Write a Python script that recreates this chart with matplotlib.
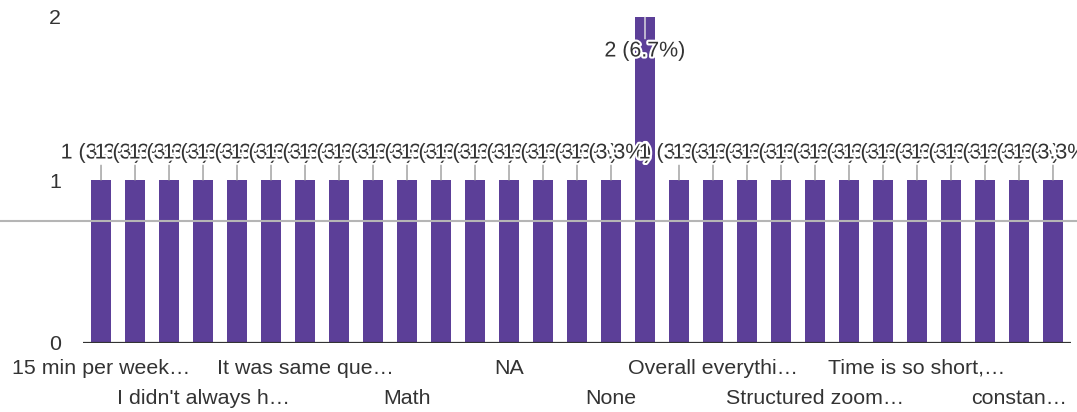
import matplotlib
matplotlib.use("Agg")
import matplotlib.pyplot as plt
import matplotlib.patheffects as pe
from matplotlib.lines import Line2D

plt.rcParams['font.family'] = ['Liberation Sans', 'DejaVu Sans']

# ---- data ----
categories = [
    "15 min per week…", "", "", "I didn't always h…", "", "",
    "It was same que…", "", "", "Math", "", "", "NA", "", "", "None",
    "", "", "Overall everythi…", "", "", "Structured zoom…", "", "",
    "Time is so short,…", "", "", "constan…", "",
]
counts = [1] * 16 + [2] + [1] * 12
total = 30
yticks = [0, 1, 2]

# ---- style ----
bar_color = "#5c3f98"
text_color = "#333333"
fs = 15.4

fig = plt.figure(figsize=(10.77, 4.12), dpi=100)
ax = fig.add_axes([83 / 1077, 1 - 343 / 412, (1071 - 83) / 1077, (343 - 17) / 412])

x = list(range(len(categories)))
ax.bar(x, counts, width=0.6, color=bar_color, zorder=2)
ax.set_xlim(-0.53, len(categories) - 1 + 0.53)
ax.set_ylim(0, 2)

for s in ax.spines.values():
    s.set_visible(False)
ax.axhline(0, color="#333333", lw=1.6, zorder=3)
ax.set_xticks([])
ax.set_yticks(yticks)
ax.set_yticklabels([str(v) for v in yticks], fontsize=fs, color=text_color)
ax.tick_params(axis="y", length=0, pad=16)

halo = [pe.withStroke(linewidth=3, foreground="white")]

# value annotations
for i, v in enumerate(counts):
    label = f"{v} ({v / total * 100:.1f}%)"
    if v >= max(counts):
        off = -34
        stem = "#e6e6e6"
    else:
        off = 27
        stem = "#9a9a9a"
    ax.annotate(label, xy=(i, v), xytext=(0, off), textcoords="offset pixels",
                ha="center", va="center", fontsize=fs, color=text_color,
                path_effects=halo, zorder=10 + i, annotation_clip=False,
                arrowprops=dict(arrowstyle="-", color=stem, lw=1.0,
                                shrinkA=0, shrinkB=0))

# category labels on two alternating rows, every third shown
for k, i in enumerate(range(0, len(categories), 3)):
    off = -25 if k % 2 == 0 else -55
    ax.annotate(categories[i], xy=(i, 0), xycoords=("data", "axes fraction"),
                xytext=(0, off), textcoords="offset pixels", ha="center",
                va="center", fontsize=fs, color=text_color,
                annotation_clip=False)

# faint horizontal rule across the whole image
fig.add_artist(Line2D([0, 1], [1 - 221 / 412, 1 - 221 / 412],
                      transform=fig.transFigure, color="#b5b5b5", lw=1.5,
                      zorder=5))

fig.savefig("out.png", dpi=100)
